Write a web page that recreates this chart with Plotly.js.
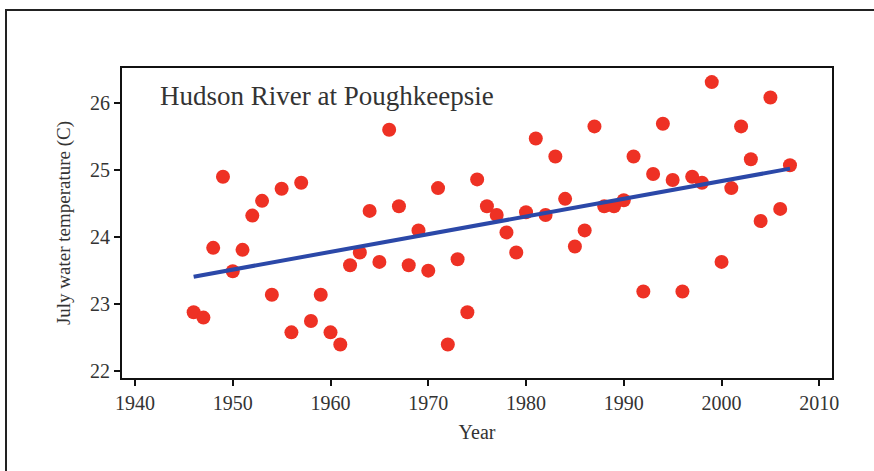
<!DOCTYPE html>
<html>
<head>
<meta charset="utf-8">
<script src="https://cdn.plot.ly/plotly-3.0.1.min.js"></script>
<style>
  html, body { margin: 0; padding: 0; background: #fff; }
  #frame { position: absolute; left: 5px; top: 9px; width: 900px; height: 500px;
           border-top: 2px solid #222; border-left: 2px solid #222; }
  #chart { position: absolute; left: 0; top: 0; width: 874px; height: 471px; }
</style>
</head>
<body>
<div id="frame"></div>
<div id="chart"></div>
<script>
const years = [1946,1947,1948,1949,1950,1951,1952,1953,1954,1955,1956,1957,1958,1959,
  1960,1961,1962,1963,1964,1965,1966,1967,1968,1969,1970,1971,1972,1973,1974,1975,
  1976,1977,1978,1979,1980,1981,1982,1983,1984,1985,1986,1987,1988,1989,1990,1991,
  1992,1993,1994,1995,1996,1997,1998,1999,2000,2001,2002,2003,2004,2005,2006,2007];
const julyTemp = [22.88,22.80,23.84,24.90,23.49,23.81,24.32,24.54,23.14,24.72,22.58,24.81,22.75,23.14,
  22.58,22.40,23.58,23.77,24.39,23.63,25.60,24.46,23.58,24.10,23.50,24.73,22.40,23.67,22.88,24.86,
  24.46,24.33,24.07,23.77,24.37,25.47,24.33,25.20,24.57,23.86,24.10,25.65,24.46,24.46,24.55,25.20,
  23.19,24.94,25.69,24.85,23.19,24.90,24.81,26.31,23.63,24.73,25.65,25.16,24.24,26.08,24.42,25.07];
const trendYears = [1946, 2007];
const trendTemp = [23.41, 25.02];
const xTicks = [1940,1950,1960,1970,1980,1990,2000,2010];
const yTicks = [22,23,24,25,26];
const chartTitle = "Hudson River at Poughkeepsie";

const serif = "Liberation Serif, Times New Roman, serif";

const traces = [
  {
    x: years, y: julyTemp, type: "scatter", mode: "markers",
    marker: { color: "#ee3124", size: 14, line: { width: 0 } },
    hoverinfo: "x+y", showlegend: false
  },
  {
    x: trendYears, y: trendTemp, type: "scatter", mode: "lines",
    line: { color: "#2b48a8", width: 4 },
    showlegend: false
  }
];

const layout = {
  width: 874, height: 471,
  margin: { l: 122, r: 42, t: 68, b: 93 },
  paper_bgcolor: "rgba(0,0,0,0)",
  plot_bgcolor: "#fff",
  showlegend: false,
  font: { family: serif, color: "#333" },
  xaxis: {
    range: [1938.67, 2011.3],
    tickvals: xTicks, ticktext: xTicks.map(String),
    showgrid: false, zeroline: false,
    showline: true, linecolor: "#111", linewidth: 2, mirror: true,
    ticks: "outside", ticklen: 6, tickwidth: 2, tickcolor: "#111",
    tickfont: { family: serif, size: 20, color: "#333" },
    title: { text: "Year", font: { family: serif, size: 20, color: "#333" }, standoff: 12 }
  },
  yaxis: {
    range: [21.9, 26.52],
    tickvals: yTicks, ticktext: yTicks.map(String),
    showgrid: false, zeroline: false,
    showline: true, linecolor: "#111", linewidth: 2, mirror: true,
    ticks: "outside", ticklen: 6, tickwidth: 2, tickcolor: "#111",
    tickfont: { family: serif, size: 20, color: "#333" },
    title: { text: "July water temperature (C)", font: { family: serif, size: 19, color: "#333" }, standoff: 14 }
  },
  annotations: [
    {
      text: chartTitle, xref: "paper", yref: "paper", x: 0.05, y: 0.965,
      xanchor: "left", yanchor: "top", showarrow: false,
      font: { family: serif, size: 27, color: "#333" }
    }
  ]
};

Plotly.newPlot("chart", traces, layout, { displayModeBar: false, staticPlot: true });
</script>
</body>
</html>
